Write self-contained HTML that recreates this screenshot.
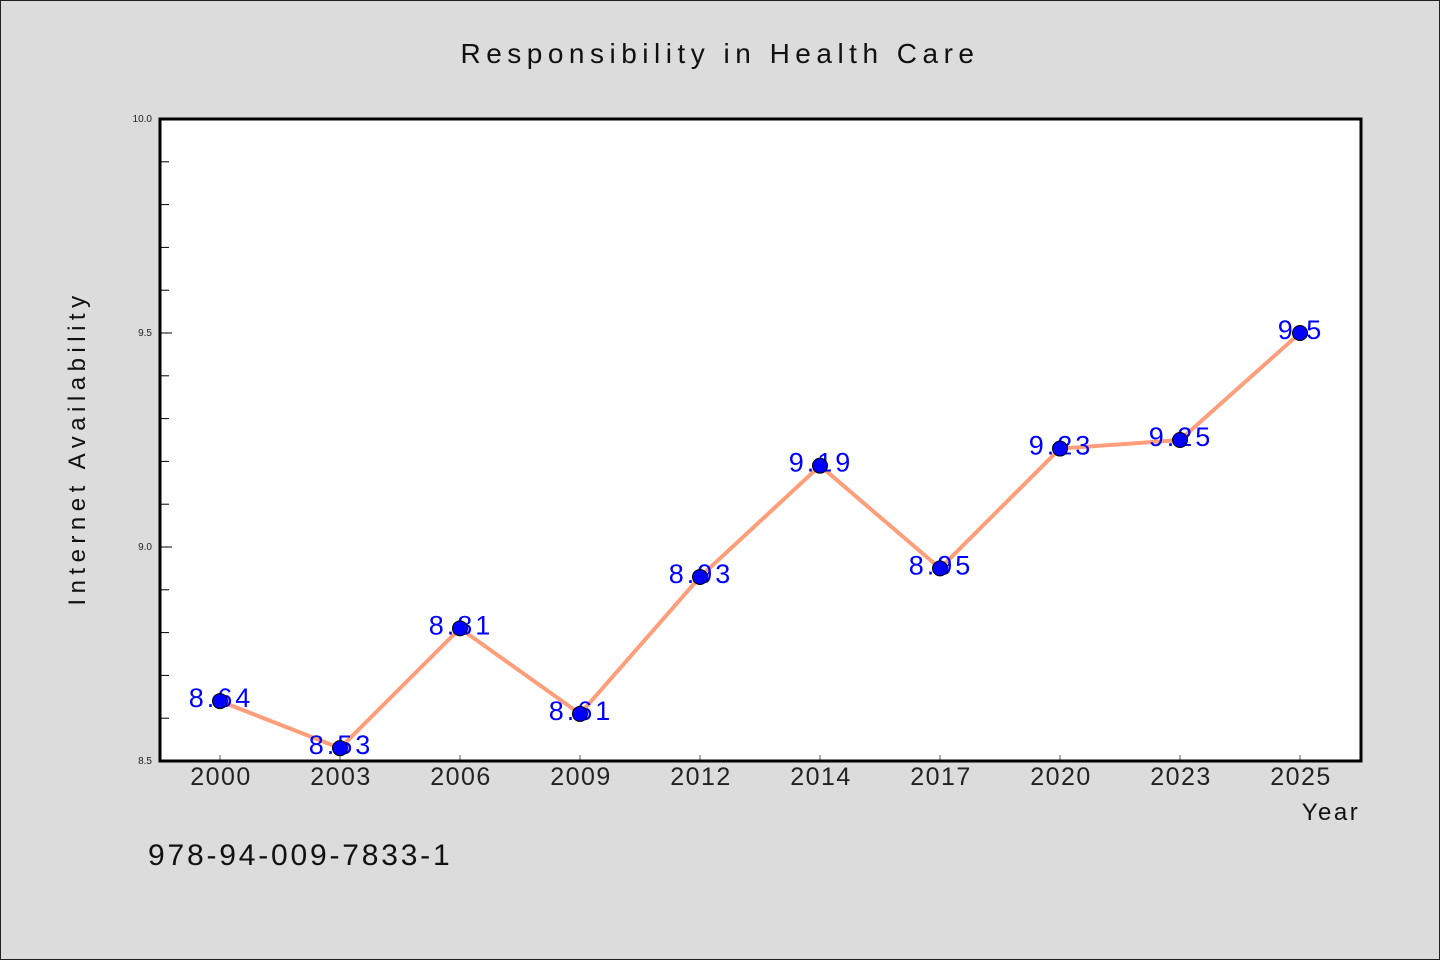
<!DOCTYPE html>
<html><head><meta charset="utf-8"><style>
html,body{margin:0;padding:0;background:#dcdcdc;}
svg{display:block;}
text{font-family:"Liberation Sans",sans-serif;}
</style></head><body>
<svg id="chart" width="1440" height="960" xmlns="http://www.w3.org/2000/svg">
<rect x="0.5" y="0.5" width="1439" height="959" fill="#dcdcdc" stroke="#222" stroke-width="1"/>
<text x="720" y="63" text-anchor="middle" font-size="28" fill="#111" letter-spacing="5.5">Responsibility in Health Care</text>
<rect x="160" y="119" width="1201" height="642" fill="#fff"/>
<g id="yaxis"></g>
<g id="xaxis"></g>
<g id="series"></g>
<rect x="160" y="119" width="1201" height="642" fill="none" stroke="#000" stroke-width="3"/>
<text x="85" y="448" transform="rotate(-90 85 448)" text-anchor="middle" font-size="24" fill="#111" letter-spacing="5.5">Internet Availability</text>
<text x="1331" y="820" text-anchor="middle" font-size="24" fill="#111" letter-spacing="2.5">Year</text>
<text x="148" y="865" font-size="30" fill="#111" letter-spacing="2.8">978-94-009-7833-1</text>
</svg>
<script>
const categories = ["2000","2003","2006","2009","2012","2014","2017","2020","2023","2025"];
const values = [8.64,8.53,8.81,8.61,8.93,9.19,8.95,9.23,9.25,9.5];
const valueLabels = ["8.64","8.53","8.81","8.61","8.93","9.19","8.95","9.23","9.25","9.5"];
const yMajorTicks = [8.5,9.0,9.5,10.0];
const yTickLabels = ["8.5","9.0","9.5","10.0"];
const yMinorTicks = [8.6,8.7,8.8,8.9,9.1,9.2,9.3,9.4,9.6,9.7,9.8,9.9];

const NS="http://www.w3.org/2000/svg";
const yMin=8.5,yMax=10.0,plotTop=119,plotBot=761;
function yScale(v){return plotBot-(v-yMin)/(yMax-yMin)*(plotBot-plotTop);}
function xScale(i){return 220+i*120;}
function mk(tag,attrs,parent){const e=document.createElementNS(NS,tag);for(const k in attrs)e.setAttribute(k,attrs[k]);parent.appendChild(e);return e;}

const ya=document.getElementById('yaxis');
yMajorTicks.forEach((v,i)=>{
  const y=yScale(v);
  const t=mk('line',{x1:160,x2:172,y1:y,y2:y,stroke:'#000','stroke-width':1},ya);
  
  
  const l=mk('text',{x:152,y:y+3,'text-anchor':'end','font-size':10,fill:'#222'},ya);
  l.textContent=yTickLabels[i];
  
  
});
yMinorTicks.forEach(v=>{
  const y=yScale(v);
  const t=mk('line',{x1:160,x2:169,y1:y,y2:y,stroke:'#000','stroke-width':1},ya);
  
  
});
const xa=document.getElementById('xaxis');
categories.forEach((c,i)=>{
  const x=xScale(i);
  const t=mk('line',{x1:x,x2:x,y1:plotBot-6,y2:plotBot,stroke:'#555','stroke-width':1},xa);
  
  
  const l=mk('text',{x:x+1,y:785,'text-anchor':'middle','font-size':25,fill:'#222','letter-spacing':1.5},xa);
  l.textContent=c;
  
  
});
const s=document.getElementById('series');
const pts=values.map((v,i)=>xScale(i)+','+yScale(v)).join(' ');
const pl=mk('polyline',{points:pts,fill:'none',stroke:'#ff9e7a','stroke-width':4,'stroke-linejoin':'round'},s);


values.forEach((v,i)=>{
  const l=mk('text',{x:xScale(i)+1,y:yScale(v)+6,'text-anchor':'middle','font-size':27,fill:'#0000ff','letter-spacing':3},s);
  l.textContent=valueLabels[i];
  
  
});
values.forEach((v,i)=>{
  const c=mk('circle',{cx:xScale(i),cy:yScale(v),r:7.5,fill:'#0000ff',stroke:'#000','stroke-width':1},s);
  
  
});
</script>
</body></html>
